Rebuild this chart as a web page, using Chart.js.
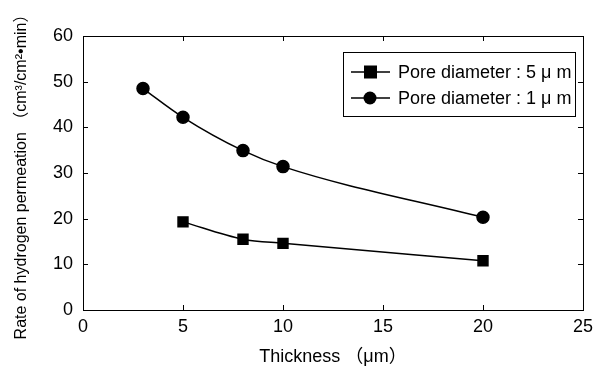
<!DOCTYPE html>
<html>
<head>
<meta charset="utf-8">
<script src="https://cdn.jsdelivr.net/npm/chart.js@4/dist/chart.umd.min.js"></script>
<style>
  html, body { margin: 0; padding: 0; background: #fff; }
  #wrap { width: 599px; height: 369px; }
</style>
</head>
<body>
<div id="wrap"><canvas id="chart" width="599" height="369"></canvas></div>
<script>
// data
const thick5 = [5, 8, 10, 20];
const rate5 = [19.3, 15.5, 14.6, 10.8];
const thick1 = [3, 5, 8, 10, 20];
const rate1 = [48.5, 42.2, 34.9, 31.4, 20.3];
const seriesLabels = ['Pore diameter : 5 μ m', 'Pore diameter : 1 μ m'];
const xTicks = [0, 5, 10, 15, 20, 25];
const yTicks = [0, 10, 20, 30, 40, 50, 60];

const FONT = '"Liberation Sans", Arial, "Noto Sans CJK JP", sans-serif';

// frame, inward ticks on all four sides, and the legend box
const framePlugin = {
    id: 'frame',
    afterDatasetsDraw(chart) {
        const { ctx, chartArea: a, scales } = chart;
        ctx.save();
        ctx.strokeStyle = '#000';
        ctx.lineWidth = 1;
        ctx.strokeRect(a.left + 0.5, a.top + 0.5, a.right - a.left, a.bottom - a.top);
        const len = 5;
        ctx.beginPath();
        xTicks.forEach(v => {
            const px = Math.round(scales.x.getPixelForValue(v)) + 0.5;
            ctx.moveTo(px, a.bottom); ctx.lineTo(px, a.bottom - len);
            ctx.moveTo(px, a.top); ctx.lineTo(px, a.top + len);
        });
        yTicks.forEach(v => {
            const py = Math.round(scales.y.getPixelForValue(v)) + 0.5;
            ctx.moveTo(a.left, py); ctx.lineTo(a.left + len, py);
            ctx.moveTo(a.right, py); ctx.lineTo(a.right - len, py);
        });
        ctx.stroke();

        // legend
        const bx = 343.5, by = 52.5, bw = 232, bh = 64;
        ctx.fillStyle = '#fff';
        ctx.fillRect(bx, by, bw, bh);
        ctx.strokeRect(bx, by, bw, bh);
        ctx.font = '18px ' + FONT;
        ctx.textBaseline = 'middle';
        chart.data.datasets.forEach((ds, i) => {
            const cy = 72 + i * 26;
            ctx.beginPath();
            ctx.lineWidth = 1.5;
            ctx.moveTo(351, cy); ctx.lineTo(390, cy);
            ctx.stroke();
            ctx.fillStyle = '#000';
            if (ds.pointStyle === 'rect') {
                ctx.fillRect(364, cy - 6.5, 13, 13);
            } else {
                ctx.beginPath();
                ctx.arc(370, cy, 6.5, 0, Math.PI * 2);
                ctx.fill();
            }
            ctx.fillText(ds.label, 398, cy + 1);
        });
        ctx.restore();
    }
};

const ctx = document.getElementById('chart').getContext('2d');
new Chart(ctx, {
    type: 'line',
    data: {
        datasets: [{
            label: seriesLabels[0],
            data: thick5.map((t, i) => ({ x: t, y: rate5[i] })),
            borderColor: '#000',
            backgroundColor: '#000',
            borderWidth: 1.5,
            pointStyle: 'rect',
            pointRadius: 7,
            cubicInterpolationMode: 'monotone'
        }, {
            label: seriesLabels[1],
            data: thick1.map((t, i) => ({ x: t, y: rate1[i] })),
            borderColor: '#000',
            backgroundColor: '#000',
            borderWidth: 1.5,
            pointStyle: 'circle',
            pointRadius: 6,
            cubicInterpolationMode: 'monotone'
        }]
    },
    options: {
        responsive: false,
        animation: false,
        layout: { padding: { top: 36, right: 10, left: 0, bottom: 0 } },
        plugins: { legend: { display: false }, tooltip: { enabled: false } },
        scales: {
            x: {
                type: 'linear',
                min: 0, max: 25,
                afterBuildTicks: s => { s.ticks = xTicks.map(v => ({ value: v })); },
                afterFit: s => { s.height = 59; },
                grid: { display: false, drawTicks: false },
                border: { display: false },
                ticks: { color: '#000', padding: 6, font: { family: FONT, size: 18 } },
                title: {
                    display: true,
                    text: 'Thickness （μm）',
                    color: '#000',
                    padding: { top: 9, bottom: 1 },
                    font: { family: FONT, size: 18 }
                }
            },
            y: {
                min: 0, max: 60,
                afterBuildTicks: s => { s.ticks = yTicks.map(v => ({ value: v })); },
                afterFit: s => { s.width = 83; },
                grid: { display: false, drawTicks: false },
                border: { display: false },
                ticks: { color: '#000', padding: 10, font: { family: FONT, size: 18 } },
                title: {
                    display: true,
                    text: 'Rate of hydrogen permeation （cm³/cm²•min）',
                    color: '#000',
                    padding: { bottom: 0, top: 12 },
                    font: { family: FONT, size: 16 }
                }
            }
        }
    },
    plugins: [framePlugin]
});
</script>
</body>
</html>
